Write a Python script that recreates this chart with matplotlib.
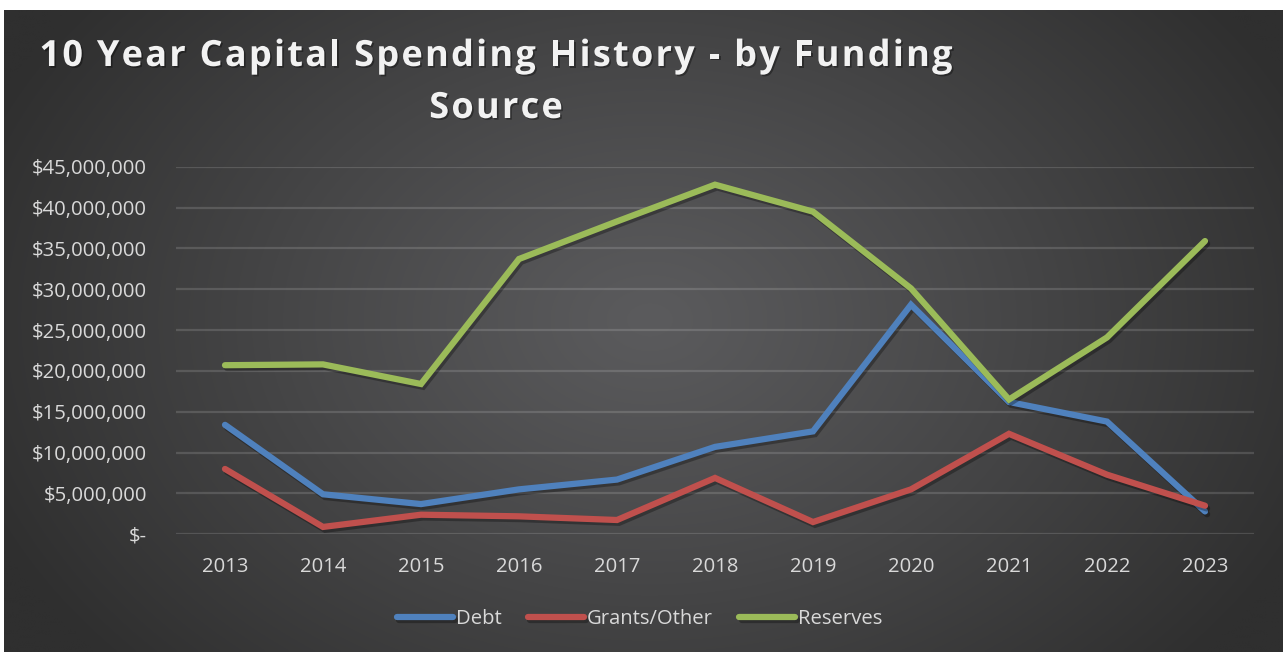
import numpy as np
import matplotlib
matplotlib.use("Agg")
import matplotlib.pyplot as plt
import matplotlib.patheffects as pe
from matplotlib.font_manager import FontProperties, findfont, get_font

# ---------------- data ----------------
years = ["2013", "2014", "2015", "2016", "2017", "2018", "2019", "2020", "2021", "2022", "2023"]
debt = [13.4e6, 4.9e6, 3.7e6, 5.5e6, 6.7e6, 10.7e6, 12.6e6, 28.1e6, 16.2e6, 13.8e6, 2.8e6]
grants_other = [8.0e6, 0.9e6, 2.4e6, 2.2e6, 1.75e6, 6.9e6, 1.5e6, 5.5e6, 12.3e6, 7.3e6, 3.5e6]
reserves = [20.7e6, 20.8e6, 18.4e6, 33.7e6, 38.3e6, 42.8e6, 39.5e6, 30.1e6, 16.5e6, 24.1e6, 35.9e6]
series_names = ["Debt", "Grants/Other", "Reserves"]
ytick_values = [0, 5e6, 10e6, 15e6, 20e6, 25e6, 30e6, 35e6, 40e6, 45e6]
ytick_labels = ["$-", "$5,000,000", "$10,000,000", "$15,000,000", "$20,000,000",
                "$25,000,000", "$30,000,000", "$35,000,000", "$40,000,000", "$45,000,000"]
title_lines = ["10 Year Capital Spending History - by Funding", "Source"]

# ---------------- style ----------------
W, H = 1283, 652
DPI = 100
colors = ["#4F81BD", "#C0504D", "#9BBB59"]
txt_color = "#d9d9d9"
FONT = "Open Sans"
TICK_FS = 14.6

fig = plt.figure(figsize=(W / DPI, H / DPI), dpi=DPI, facecolor="white")

# background panel with radial gradient
px0, py0 = 4, 10
bg = fig.add_axes([px0 / W, 0, 1 - px0 / W, 1 - py0 / H], zorder=-10)
nx, ny = 400, 200
xx, yy = np.meshgrid(np.linspace(px0, W, nx), np.linspace(py0, H, ny))
cx, cy = 650, 320
r = np.sqrt(((xx - cx) / 720) ** 2 + ((yy - cy) / 520) ** 2)
t = np.clip(r, 0, 1) ** 1.1
c_center = np.array([0x5b, 0x5b, 0x5d]) / 255
c_edge = np.array([0x2f, 0x2f, 0x2f]) / 255
img = c_center[None, None, :] * (1 - t[..., None]) + c_edge[None, None, :] * t[..., None]
bg.imshow(img, aspect="auto", extent=[0, 1, 0, 1], interpolation="bilinear")
bg.set_axis_off()

# main axes
ax_left, ax_right = 176, 1254
ax_top, ax_bot = 166.7, 534.3
ax = fig.add_axes([ax_left / W, 1 - ax_bot / H, (ax_right - ax_left) / W, (ax_bot - ax_top) / H])
ax.set_facecolor("none")
x = np.arange(len(years))
for vals, name, col in zip([debt, grants_other, reserves], series_names, colors):
    ax.plot(x, vals, color=col, lw=4.5, label=name, solid_capstyle="round",
            solid_joinstyle="miter",
            path_effects=[pe.SimpleLineShadow(offset=(1.5, -2), shadow_color="black", alpha=0.3),
                          pe.Normal()], zorder=3)

ax.set_xlim(-0.5, len(years) - 0.5)
ax.set_ylim(0, 45e6)
ax.set_xticks(x)
ax.set_xticklabels(years)
ax.set_yticks(ytick_values)
ax.set_yticklabels(ytick_labels)
for lab in ax.get_xticklabels() + ax.get_yticklabels():
    lab.set_fontfamily(FONT)
    lab.set_fontsize(TICK_FS)
    lab.set_color(txt_color)
ax.tick_params(axis="both", length=0)
ax.tick_params(axis="y", pad=21)
ax.tick_params(axis="x", pad=16.5)
ax.grid(axis="y", color="#ffffff", alpha=0.14, lw=1.6)
ax.set_axisbelow(True)
for s in ax.spines.values():
    s.set_visible(False)

leg = fig.legend(loc="center", bbox_to_anchor=(640 / W, 1 - 619.5 / H), ncol=3, frameon=False,
                 handlelength=2.75, handletextpad=0.15, columnspacing=1.3,
                 prop=FontProperties(family=FONT, size=TICK_FS), labelcolor=txt_color)

# ---------------- title with letter spacing ----------------
fp = FontProperties(family=FONT, weight="bold")
font = get_font(findfont(fp))
target_w = 913.0
size_pt = 26.0


def advances(s, size):
    font.set_size(size, DPI)
    out = []
    for ch in s:
        g = font.load_char(ord(ch))
        out.append(g.linearHoriAdvance / 65536.0)
    return out


adv = advances(title_lines[0], size_pt)
natural = sum(adv)
if natural > target_w:
    size_pt *= target_w / natural * 0.98
    adv = advances(title_lines[0], size_pt)
    natural = sum(adv)
spacing = (target_w - natural) / (len(title_lines[0]) - 1)
center_x = 496
baselines = [66, 118]
for line, base in zip(title_lines, baselines):
    a = advances(line, size_pt)
    total = sum(a) + spacing * (len(line) - 1)
    xpos = center_x - total / 2
    for ch, w in zip(line, a):
        if ch != " ":
            fig.text(xpos / W, 1 - base / H, ch, fontproperties=fp, fontsize=size_pt,
                     color="#f2f2f2", ha="left", va="baseline",
                     path_effects=[pe.withSimplePatchShadow(offset=(1.2, -1.2), shadow_rgbFace="black",
                                                            alpha=0.35)])
        xpos += w + spacing

fig.savefig("out.png", dpi=DPI, facecolor="white")
